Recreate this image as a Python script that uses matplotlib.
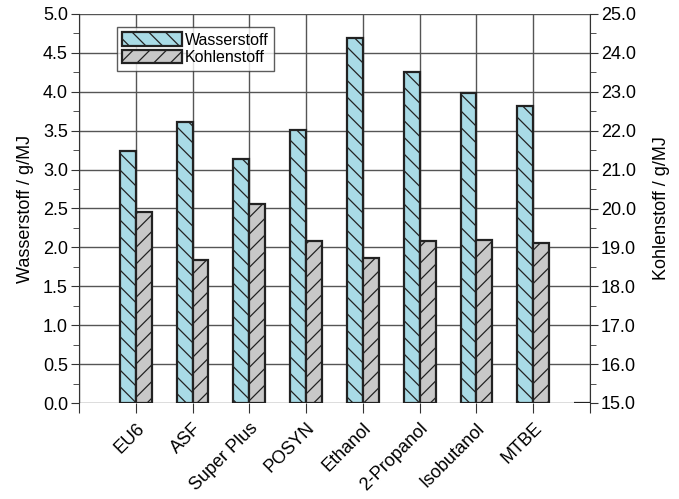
import matplotlib
matplotlib.use("Agg")
import matplotlib.pyplot as plt
import numpy as np
from matplotlib.ticker import MultipleLocator, FormatStrFormatter

plt.rcParams['font.family'] = ['Liberation Sans', 'DejaVu Sans']
plt.rcParams['hatch.linewidth'] = 0.9
plt.rcParams['hatch.color'] = '#222222'

categories = ["EU6", "ASF", "Super Plus", "POSYN", "Ethanol", "2-Propanol", "Isobutanol", "MTBE", ""]
wasserstoff = [3.24, 3.61, 3.13, 3.51, 4.69, 4.26, 3.99, 3.82, 0.0]
kohlenstoff = [19.91, 18.68, 20.12, 19.16, 18.74, 19.16, 19.18, 19.12, 15.0]

fig = plt.figure(figsize=(6.79, 4.99), dpi=100)
ax = fig.add_axes([79/679, 1-403/499, (590-79)/679, (403-14)/499])
ax2 = ax.twinx()

x = np.arange(1, len(categories) + 1)
w = 0.28
blue = '#a9dbe6'
grey = '#c8c8c8'
edge = '#222222'

ax.bar(x - w/2, wasserstoff, width=w, color=blue, edgecolor=edge, linewidth=1.6,
       hatch='\\\\', label='Wasserstoff', zorder=3)
ax2.bar(x + w/2, np.array(kohlenstoff) - 15, bottom=15, width=w, color=grey, edgecolor=edge,
        linewidth=1.6, hatch='//', label='Kohlenstoff', zorder=3)

ax.set_xlim(0, 9)
ax.set_ylim(0, 5)
ax2.set_ylim(15, 25)
ax.set_xticks(np.arange(0, 10))
ax.set_xticklabels([""] + categories, rotation=45, ha='right', rotation_mode='anchor', fontsize=13)
ax.yaxis.set_major_locator(MultipleLocator(0.5))
ax.yaxis.set_minor_locator(MultipleLocator(0.25))
ax2.yaxis.set_major_locator(MultipleLocator(1.0))
ax2.yaxis.set_minor_locator(MultipleLocator(0.5))
ax.yaxis.set_major_formatter(FormatStrFormatter('%.1f'))
ax2.yaxis.set_major_formatter(FormatStrFormatter('%.1f'))

ax.tick_params(axis='y', which='major', labelsize=13, length=6, direction='out', color='#333333', pad=2)
ax.tick_params(axis='y', which='minor', length=4, color='#333333')
ax.tick_params(axis='x', length=7, color='#333333', pad=5)
ax2.tick_params(axis='y', which='major', labelsize=13, length=6, color='#333333', pad=2)
ax2.tick_params(axis='y', which='minor', length=4, color='#333333')

ax.grid(True, which='major', color='#555555', linewidth=1.0, zorder=0)
ax.set_axisbelow(True)
for sp in list(ax.spines.values()) + list(ax2.spines.values()):
    sp.set_visible(False)
ax.spines['left'].set_visible(True)
ax.spines['left'].set_color('#333333')
ax2.spines['right'].set_visible(True)
ax2.spines['right'].set_color('#333333')

ax.set_ylabel('Wasserstoff / g/MJ', fontsize=13, labelpad=6)
ax2.set_ylabel('Kohlenstoff / g/MJ', fontsize=13, labelpad=12)

h1, l1 = ax.get_legend_handles_labels()
h2, l2 = ax2.get_legend_handles_labels()
leg = ax2.legend(h1 + h2, l1 + l2, loc='upper left', bbox_to_anchor=(0.074, 0.967),
                 fontsize=11.5, frameon=True, fancybox=False, edgecolor='#333333',
                 handlelength=3.7, handleheight=0.9, handletextpad=0.2,
                 borderpad=0.35, labelspacing=0.15, borderaxespad=0)
leg.get_frame().set_linewidth(1.0)

fig.savefig('out.png', dpi=100)
